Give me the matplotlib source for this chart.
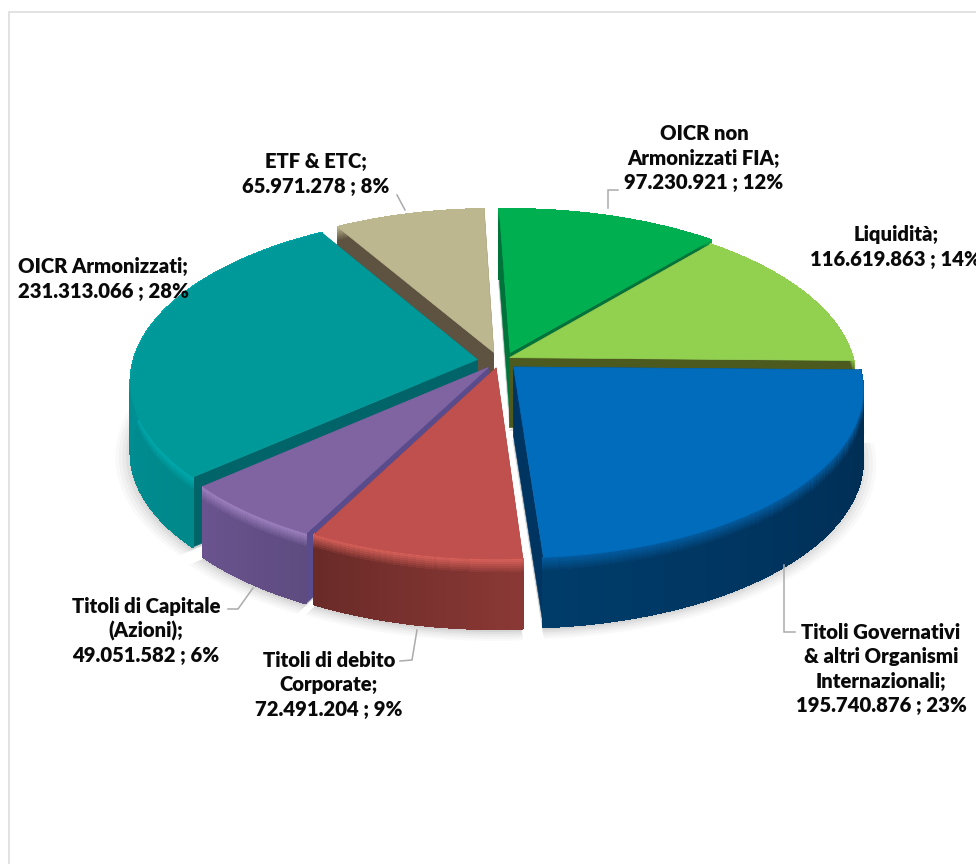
import numpy as np
import matplotlib
matplotlib.use("Agg")
import matplotlib.pyplot as plt
from matplotlib.collections import PolyCollection
from matplotlib.colors import to_rgb

# ---- data ----
names = ["Titoli Governativi\n& altri Organismi\nInternazionali",
         "Titoli di debito\nCorporate",
         "Titoli di Capitale\n(Azioni)",
         "OICR Armonizzati",
         "ETF & ETC",
         "OICR non\nArmonizzati FIA",
         "Liquidità"]
values = [195740876, 72491204, 49051582, 231313066, 65971278, 97230921, 116619863]
percent_labels = ["23%", "9%", "6%", "28%", "8%", "12%", "14%"]
explode = [0.07, 0.055, 0.05, 0.055, 0.055, 0.055, 0.05]

# ---- styles ----
top_col = ["#006CBB", "#C0504D", "#8064A2", "#009999", "#BDB78F", "#00B050", "#92D050"]
face_col = ["#003562", "#7D3330", "#5A4C8C", "#006468", "#5E5240", "#00733A", "#4C5A20"]
rim_col = ["#045CA0", "#DB625B", "#A083C2", "#00ADB0", "#BDB78F", "#00B050", "#92D050"]
wall_a = ["#002B50", "#8A3835", "#5E4C80", "#00888A", "#5E5240", "#00733A", "#4C5A20"]
wall_b = ["#003C6A", "#6A2B28", "#6A538E", "#0098A0", "#5E5240", "#00733A", "#4C5A20"]
draw_order = [4, 5, 6, 3, 2, 1, 0]
shift_x = [0, 4, 3, 0, 3, 8, -2]
shift_y = [-2, -2, 0, 0, 0, 0, 0]
label_xy = [(881, 669), (329, 685), (146, 631), (103, 279), (316, 174), (704, 158), (896, 247)]
leaders = [[(784, 565), (784, 632), (795, 632)],
           [(417, 630), (412, 660), (400, 661)],
           [(253, 588), (238, 609), (228, 609)],
           [],
           [(405, 210), (397, 195)],
           [(608, 208), (608, 190), (618, 190)],
           []]

CX, CY, RX, RY, K, DEPTH = 496, 361, 344, 164, 0.129, 70
START = 1.0


def proj(u, v, z=0.0):
    s = 1.0 / (1.0 - K * v)
    return CX + RX * u * s, CY + RY * v * s + z


def lerp(a, b, t):
    a, b = np.array(to_rgb(a)), np.array(to_rgb(b))
    return tuple(a + (b - a) * t)


fig = plt.figure(figsize=(9.76, 8.64), dpi=100, facecolor="white")
ax = fig.add_axes([0, 0, 1, 1])
ax.set_xlim(0, 976)
ax.set_ylim(864, 0)
ax.axis("off")

# chart frame
ax.plot([8.5, 8.5, 976], [864, 11.5, 11.5], color="#E2E2E2", lw=1.4, solid_joinstyle="miter")

total = float(sum(values))
sweeps = [360.0 * x / total for x in values]
starts = START + np.concatenate([[0], np.cumsum(sweeps)[:-1]])

geom = []
for st, sw, ex in zip(starts, sweeps, explode):
    mid = np.radians(st + sw / 2)
    ou, ov = ex * np.cos(mid), ex * np.sin(mid)
    th = np.radians(np.linspace(st, st + sw, max(int(sw), 4) + 1))
    geom.append((ou, ov, th))

# soft ground shadow
for scale, alpha in zip([1.04, 1.03, 1.02, 1.01, 1.0], [0.04, 0.05, 0.06, 0.08, 0.10]):
    for i, (ou, ov, th) in enumerate(geom):
        us = np.r_[ou, ou + scale * np.cos(th)]
        vs = np.r_[ov, ov + scale * np.sin(th)]
        x, y = proj(us, vs, DEPTH + 3)
        ax.fill(x - 1 + shift_x[i], y + shift_y[i], color="#707070", alpha=alpha, lw=0)

# slices
for i in draw_order:
    ou, ov, th = geom[i]
    sx, sy = shift_x[i], shift_y[i]
    ax0, ay0 = proj(ou, ov)
    ax0, ay0 = ax0 + sx, ay0 + sy
    # inner faces
    for t in (th[0], th[-1]):
        ex_, ey_ = proj(ou + np.cos(t), ov + np.sin(t))
        ex_, ey_ = ex_ + sx, ey_ + sy
        ax.fill([ax0, ex_, ex_, ax0], [ay0, ey_, ey_ + DEPTH, ay0 + DEPTH],
                color=face_col[i], lw=0.3, ec=face_col[i])
    # outer wall, drawn as small shaded quads
    zs = [0, 2, 4, 6, 8, 10, 12, 14, DEPTH]
    quads, cols = [], []
    for j in range(len(th) - 1):
        frac = j / max(len(th) - 2, 1)
        w = lerp(wall_a[i], wall_b[i], frac)
        x0, y0 = proj(ou + np.cos(th[j]), ov + np.sin(th[j]))
        x1, y1 = proj(ou + np.cos(th[j + 1]), ov + np.sin(th[j + 1]))
        x0, x1, y0, y1 = x0 + sx, x1 + sx, y0 + sy, y1 + sy
        for n in range(len(zs) - 1):
            z0, z1 = zs[n], zs[n + 1]
            quads.append([(x0, y0 + z0), (x1, y1 + z0), (x1, y1 + z1), (x0, y0 + z1)])
            cols.append(lerp(rim_col[i], w, n / (len(zs) - 2)))
    ax.add_collection(PolyCollection(quads, facecolors=cols, edgecolors=cols,
                                     linewidths=0.8, antialiaseds=False))
    # top
    us = np.r_[ou, ou + np.cos(th)]
    vs = np.r_[ov, ov + np.sin(th)]
    x, y = proj(us, vs)
    ax.fill(x + sx, y + sy, color=top_col[i], lw=0.5, ec=top_col[i])

# leaders
for pts in leaders:
    if pts:
        ax.plot(*zip(*pts), color="#ABABAB", lw=1.1, solid_joinstyle="miter")

# data labels
for name, val, pct, (lx, ly) in zip(names, values, percent_labels, label_xy):
    num = f"{val:,}".replace(",", ".")
    ax.text(lx, ly, f"{name};\n{num} ; {pct}", ha="center", va="center", family="Lato",
            fontweight=800, fontsize=14.6, color="#0A0A0A", linespacing=1.33, clip_on=True)

fig.savefig("out.png", dpi=100)
